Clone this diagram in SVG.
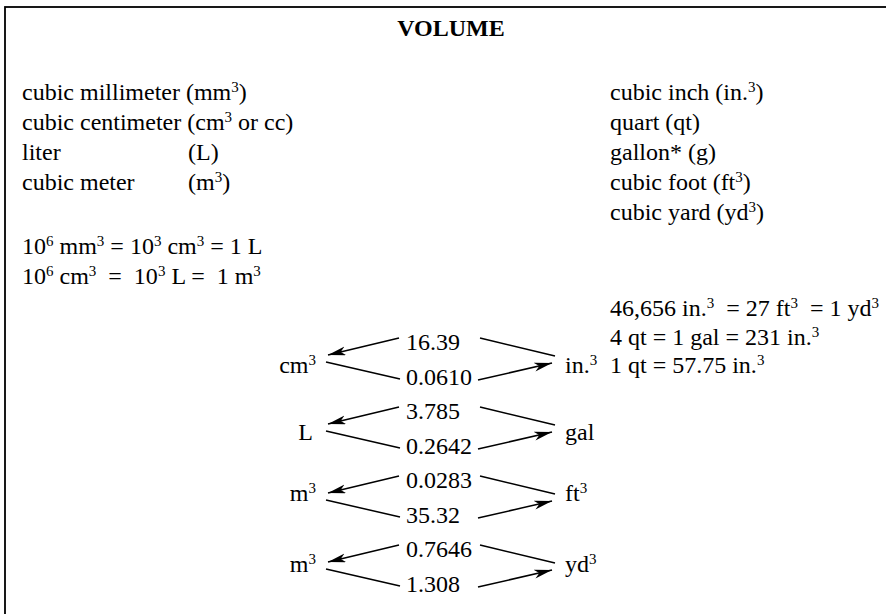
<svg xmlns="http://www.w3.org/2000/svg" width="886" height="614" viewBox="0 0 886 614">
<style>
text{font-family:"Liberation Serif","Times New Roman",serif;font-size:24px;fill:#000;white-space:pre}
.t{font-weight:bold;text-anchor:middle}
.s{font-size:15px}
.e{text-anchor:end}
.c{stroke:#000;stroke-width:1.5;fill:none}
.a{marker-end:url(#ah)}
</style>
<defs>
<marker id="ah" markerUnits="userSpaceOnUse" markerWidth="22" markerHeight="12" refX="18" refY="4.5" orient="auto">
<path d="M0,0 L18,4.5 L0,9 L5,4.5 z" fill="#000"/>
</marker>
</defs>
<rect x="5" y="7" width="900" height="700" fill="#fff" stroke="#000" stroke-width="1.8"/>
<g id="title"><text class="t" x="451" y="36">VOLUME</text></g>
<g id="metric-units">
<text x="22" y="100">cubic millimeter (mm<tspan class="s" dy="-8">3</tspan><tspan dy="8">)</tspan></text>
<text x="22" y="130">cubic centimeter (cm<tspan class="s" dy="-8">3</tspan><tspan dy="8"> or cc)</tspan></text>
<text x="22" y="160">liter</text><text x="188" y="160">(L)</text>
<text x="22" y="190">cubic meter</text><text x="188" y="190">(m<tspan class="s" dy="-8">3</tspan><tspan dy="8">)</tspan></text>
</g>
<g id="us-units">
<text x="610" y="100">cubic inch (in.<tspan class="s" dy="-8">3</tspan><tspan dy="8">)</tspan></text>
<text x="610" y="130">quart (qt)</text>
<text x="610" y="160">gallon* (g)</text>
<text x="610" y="190">cubic foot (ft<tspan class="s" dy="-8">3</tspan><tspan dy="8">)</tspan></text>
<text x="610" y="220">cubic yard (yd<tspan class="s" dy="-8">3</tspan><tspan dy="8">)</tspan></text>
</g>
<g id="metric-equations">
<text x="22" y="254">10<tspan class="s" dy="-8">6</tspan><tspan dy="8"> mm</tspan><tspan class="s" dy="-8">3</tspan><tspan dy="8"> = 10</tspan><tspan class="s" dy="-8">3</tspan><tspan dy="8"> cm</tspan><tspan class="s" dy="-8">3</tspan><tspan dy="8"> = 1 L</tspan></text>
<text x="22" y="284">10<tspan class="s" dy="-8">6</tspan><tspan dy="8"> cm</tspan><tspan class="s" dy="-8">3</tspan><tspan dy="8">  =  10</tspan><tspan class="s" dy="-8">3</tspan><tspan dy="8"> L =  1 m</tspan><tspan class="s" dy="-8">3</tspan></text>
</g>
<g id="us-equations">
<text x="610" y="316">46,656 in.<tspan class="s" dy="-8">3</tspan><tspan dy="8">  = 27 ft</tspan><tspan class="s" dy="-8">3</tspan><tspan dy="8">  = 1 yd</tspan><tspan class="s" dy="-8">3</tspan></text>
<text x="610" y="345">4 qt = 1 gal = 231 in.<tspan class="s" dy="-8">3</tspan></text>
<text x="610" y="373">1 qt = 57.75 in.<tspan class="s" dy="-8">3</tspan></text>
</g>
<g id="node-cm3"><text class="e" x="316" y="373">cm<tspan class="s" dy="-8">3</tspan></text></g>
<g id="node-in3"><text x="565" y="373">in.<tspan class="s" dy="-8">3</tspan></text></g>
<g id="node-L"><text class="e" x="313" y="440">L</text></g>
<g id="node-gal"><text x="565" y="440">gal</text></g>
<g id="node-m3a"><text class="e" x="316" y="501">m<tspan class="s" dy="-8">3</tspan></text></g>
<g id="node-ft3"><text x="565" y="501">ft<tspan class="s" dy="-8">3</tspan></text></g>
<g id="node-m3b"><text class="e" x="316" y="572">m<tspan class="s" dy="-8">3</tspan></text></g>
<g id="node-yd3"><text x="565" y="572">yd<tspan class="s" dy="-8">3</tspan></text></g>
<g id="factors">
<text x="406" y="350">16.39</text>
<text x="406" y="385">0.0610</text>
<text x="406" y="419">3.785</text>
<text x="406" y="454">0.2642</text>
<text x="406" y="488">0.0283</text>
<text x="406" y="523">35.32</text>
<text x="406" y="557">0.7646</text>
<text x="406" y="592">1.308</text>
</g>
<g id="connectors">
<path class="c a" d="M399,338 L328,355"/>
<path class="c" d="M326,362 L400,379"/>
<path class="c" d="M480,338 L555,356"/>
<path class="c a" d="M478,380 L552,363"/>
<path class="c a" d="M399,407 L328,424"/>
<path class="c" d="M326,431 L400,448"/>
<path class="c" d="M480,407 L555,425"/>
<path class="c a" d="M478,449 L552,432"/>
<path class="c a" d="M399,476 L328,493"/>
<path class="c" d="M326,500 L400,517"/>
<path class="c" d="M480,476 L555,494"/>
<path class="c a" d="M478,518 L552,501"/>
<path class="c a" d="M399,545 L328,562"/>
<path class="c" d="M326,569 L400,586"/>
<path class="c" d="M480,545 L555,563"/>
<path class="c a" d="M478,587 L552,570"/>
</g>
</svg>
